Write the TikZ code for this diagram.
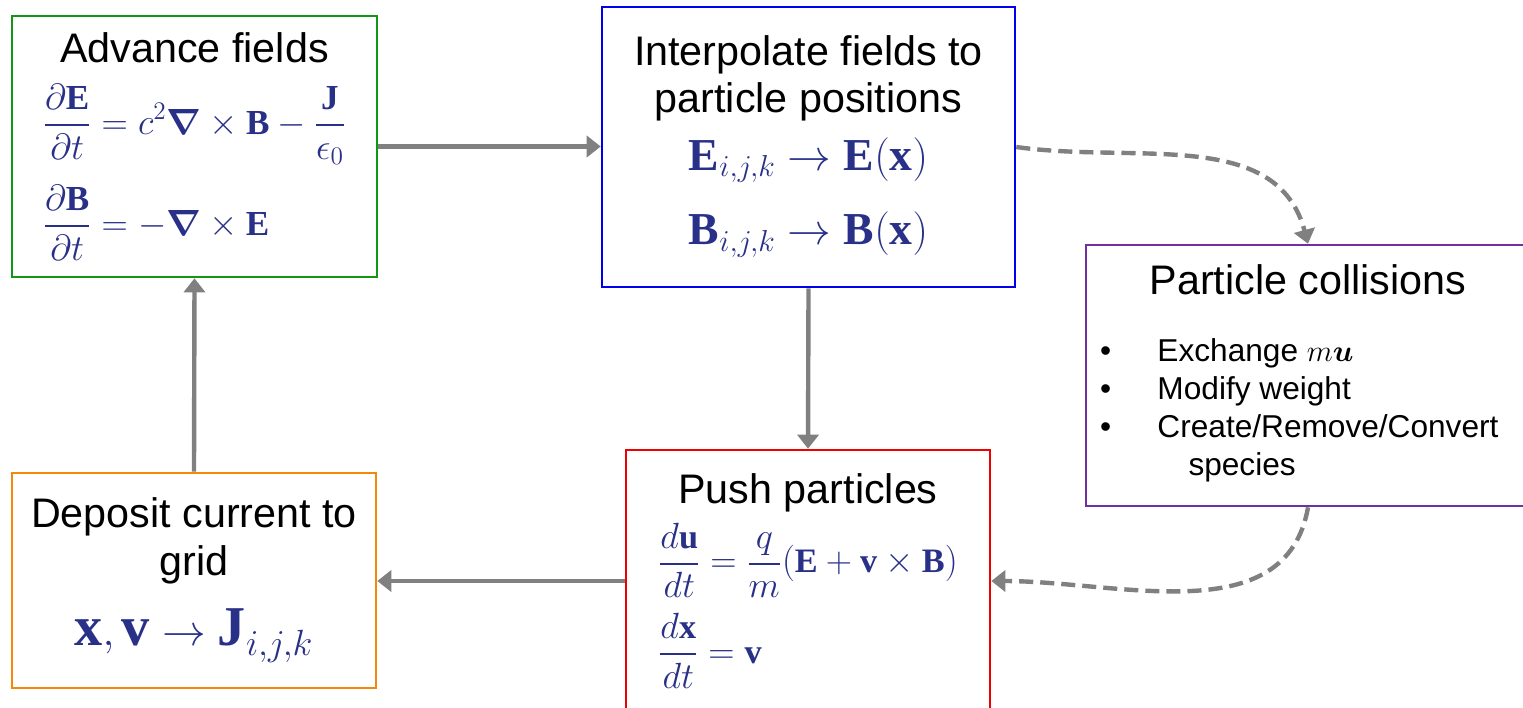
\documentclass[tikz,border=0pt]{standalone}
\usepackage{amsmath}
\usepackage{fontspec}
\setmainfont{Liberation Serif}
\newfontfamily\arialfont{Liberation Sans}
\usepackage{xcolor}
\usetikzlibrary{arrows.meta,positioning}

\definecolor{eqblue}{RGB}{40,48,135}
\definecolor{boxgreen}{RGB}{20,150,20}
\definecolor{boxblue}{RGB}{0,0,235}
\definecolor{boxpurple}{RGB}{112,48,160}
\definecolor{boxred}{RGB}{240,0,0}
\definecolor{boxorange}{RGB}{245,135,10}
\definecolor{flowgray}{RGB}{128,128,128}

\newcommand{\hdr}{\arialfont\fontsize{23.5}{27}\selectfont}
\newcommand{\eqsize}[1]{\color{eqblue}\fontsize{#1}{#1}\selectfont}
\newcommand{\vb}[1]{\mathbf{#1}}

\begin{document}
\begin{tikzpicture}[
    x=0.02cm, y=-0.02cm,
    stage/.style={rectangle, draw, line width=1.5pt, align=center, inner sep=0pt, font=\hdr},
    flow/.style={draw=flowgray, line width=2.5pt, -{Triangle[length=8pt,width=12pt]}},
    dflow/.style={flow, dash pattern=on 8pt off 4pt},
]
    \useasboundingbox (0,0) rectangle (1523,707);

    % field solve
    \node[stage, draw=boxgreen, minimum width=7.3cm, minimum height=5.22cm] (adv) at (194.5,146.5) {%
        Advance fields\\[11pt]
        {\eqsize{20}\begin{tabular}{@{}l@{}}
        $\displaystyle\frac{\partial\vb{E}}{\partial t}=c^2\boldsymbol{\nabla}\times\vb{B}-\frac{\vb{J}}{\epsilon_0}$\\[23pt]
        $\displaystyle\frac{\partial\vb{B}}{\partial t}=-\boldsymbol{\nabla}\times\vb{E}$
        \end{tabular}}};
    \node[stage, draw=boxblue, minimum width=8.26cm, minimum height=5.6cm] (interp) at (808.5,147) {%
        Interpolate fields to\\particle positions\\[8pt]
        {\eqsize{26}\begin{tabular}{@{}l@{}}
        $\vb{E}_{i,j,k}\rightarrow\vb{E}(\vb{x})$\\[16pt]
        $\vb{B}_{i,j,k}\rightarrow\vb{B}(\vb{x})$
        \end{tabular}}};

    % particles
    \node[stage, draw=boxpurple, minimum width=8.88cm, minimum height=5.22cm] (coll) at (1308,375.5) {%
        Particle collisions\\[22pt]
        {\arialfont\fontsize{18}{21.6}\selectfont\begin{tabular}{@{}p{1.15cm}@{}l@{\hspace{0.35cm}}}
        \textbullet & Exchange $m\boldsymbol{u}$\\
        \textbullet & Modify weight\\
        \textbullet & Create/Remove/Convert\\
                    & \hspace{0.62cm}species
        \end{tabular}}};
    \node[stage, draw=boxred, minimum width=7.28cm, minimum height=5.24cm] (push) at (808,581) {%
        Push particles\\[5pt]
        {\eqsize{19.5}\begin{tabular}{@{}l@{}}
        $\displaystyle\frac{d\vb{u}}{dt}=\frac{q}{m}(\vb{E}+\vb{v}\times\vb{B})$\\[17pt]
        $\displaystyle\frac{d\vb{x}}{dt}=\vb{v}$
        \end{tabular}}};
    \node[stage, draw=boxorange, minimum width=7.28cm, minimum height=4.3cm] (dep) at (194,580.5) {%
        Deposit current to\\grid\\[13pt]
        {\eqsize{32}$\vb{x},\vb{v}\rightarrow\vb{J}_{i,j,k}$}};

    % cycle
    \draw[flow] (adv.east) -- (adv.east -| interp.west);
    \draw[flow] (interp.south) -- (push.north);
    \draw[flow] (push.west) -- (push.west -| dep.east);
    \draw[flow] (dep.north) -- (adv.south);
    \draw[dflow] (interp.east) to[out=-8, in=105] (coll.north);
    \draw[dflow] (coll.south) to[out=-100, in=0] (push.east);
\end{tikzpicture}
\end{document}
